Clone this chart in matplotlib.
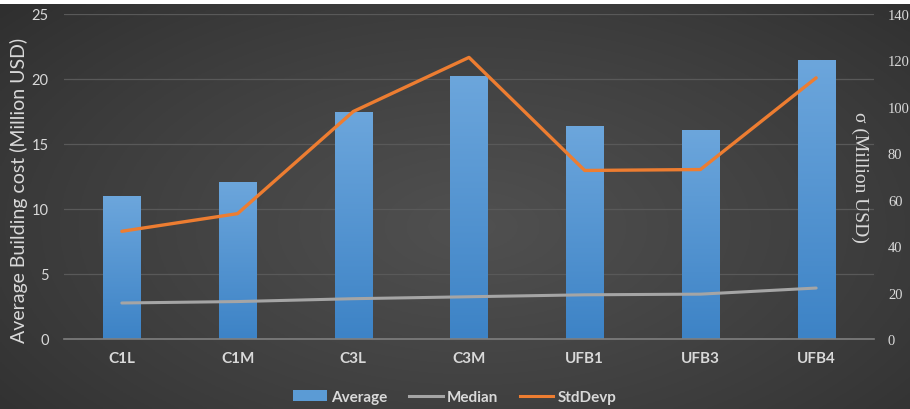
import numpy as np
import matplotlib
matplotlib.use("Agg")
import matplotlib.pyplot as plt
from matplotlib.lines import Line2D
from matplotlib.patches import Patch
from matplotlib.colors import LinearSegmentedColormap

categories = ["C1L", "C1M", "C3L", "C3M", "UFB1", "UFB3", "UFB4"]
average = [11.0, 12.1, 17.5, 20.25, 16.35, 16.1, 21.5]
median = [2.77, 2.88, 3.1, 3.25, 3.4, 3.45, 3.92]
stddevp = [46.4, 54.0, 98.0, 121.3, 72.6, 73.0, 112.5]

left_ticks = [0, 5, 10, 15, 20, 25]
right_ticks = [0, 20, 40, 60, 80, 100, 120, 140]

TEXT = "#d9d9d9"
GRID = "#595959"
BAR = "#5b9bd5"
MEDIAN_C = "#a5a5a5"
STD_C = "#ed7d31"
SANS = "Lato"
SERIF = "Liberation Serif"

fig = plt.figure(figsize=(9.1, 4.1), dpi=100)
fig.patch.set_facecolor("white")

# dark radial background
bg = fig.add_axes([0, 0, 1, 1 - 5 / 410], zorder=-10)
yy, xx = np.mgrid[0:1:200j, 0:1:400j]
r = np.sqrt(((xx - 0.52) / 0.75) ** 2 + ((yy - 0.45) / 0.9) ** 2)
shade = np.clip(1 - r, 0, 1)
lo = np.array([0x2a, 0x2a, 0x2a]) / 255
hi = np.array([0x50, 0x50, 0x50]) / 255
img = lo + (hi - lo) * shade[..., None] ** 0.8
bg.imshow(img, aspect="auto", extent=[0, 1, 0, 1], origin="lower")
bg.axis("off")

ax = fig.add_axes([64 / 910, 70 / 410, 810 / 910, 325 / 410])
ax.patch.set_alpha(0)
x = np.arange(len(categories))

bars = ax.bar(x, average, width=0.32, color=BAR, zorder=2)
# vertical shading inside each bar
grad = np.linspace(0, 1, 100)[:, None]
cmap = LinearSegmentedColormap.from_list("bar", ["#3d83c6", "#6ca6dc"])
for b in bars:
    x0, w, h = b.get_x(), b.get_width(), b.get_height()
    im = ax.imshow(grad, cmap=cmap, aspect="auto", origin="lower",
                   extent=[x0, x0 + w, 0, h], zorder=2.1)
    im.set_clip_path(b)

ax.plot(x, median, color=MEDIAN_C, lw=2.2, zorder=3, solid_capstyle="round")

ax.set_xlim(-0.5, len(categories) - 0.5)
ax.set_ylim(0, 25)
ax.set_yticks(left_ticks)
ax.set_xticks(x)
ax.set_xticklabels(categories, fontsize=11, fontweight="bold", color=TEXT,
                   family=SANS)
ax.tick_params(axis="x", length=0, pad=9)
ax.tick_params(axis="y", length=0, pad=11, labelcolor=TEXT, labelsize=10.5)
for t in ax.get_yticklabels():
    t.set_family(SANS)
ax.grid(axis="y", color=GRID, lw=0.9, zorder=0)
ax.set_axisbelow(True)
for s in ["top", "right", "left"]:
    ax.spines[s].set_visible(False)
ax.spines["bottom"].set_color("#7f7f7f")
ax.spines["bottom"].set_linewidth(1.2)
ax.set_ylabel("Average Building cost (Million USD)", color=TEXT, fontsize=14,
              family=SANS)
ax.yaxis.set_label_coords(-0.045, 0.46)

ax2 = ax.twinx()
ax2.set_ylim(0, 140)
ax2.set_yticks(right_ticks)
ax2.plot(x, stddevp, color=STD_C, lw=2.4, zorder=4, solid_capstyle="round")
for s in ["top", "right", "left", "bottom"]:
    ax2.spines[s].set_visible(False)
ax2.tick_params(axis="y", length=0, pad=10, labelcolor=TEXT, labelsize=10.5)
for t in ax2.get_yticklabels():
    t.set_family(SERIF)
ax2.set_ylabel("σ (Million USD)", color=TEXT, fontsize=14, rotation=-90,
               family=SERIF, labelpad=-30)

handles = [
    Patch(facecolor=BAR, edgecolor="none"),
    Line2D([], [], color=MEDIAN_C, lw=2.2),
    Line2D([], [], color=STD_C, lw=2.2),
]
leg = fig.legend(handles, ["Average", "Median", "StdDevp"], loc="center",
                 bbox_to_anchor=(0.5, 12 / 410), ncol=3, frameon=False,
                 handlelength=2.2, handleheight=0.7, columnspacing=1.4,
                 handletextpad=0.3, prop={"family": SANS, "size": 11,
                                          "weight": "bold"})
for t in leg.get_texts():
    t.set_color(TEXT)

fig.savefig("out.png", dpi=100, facecolor=fig.get_facecolor())
